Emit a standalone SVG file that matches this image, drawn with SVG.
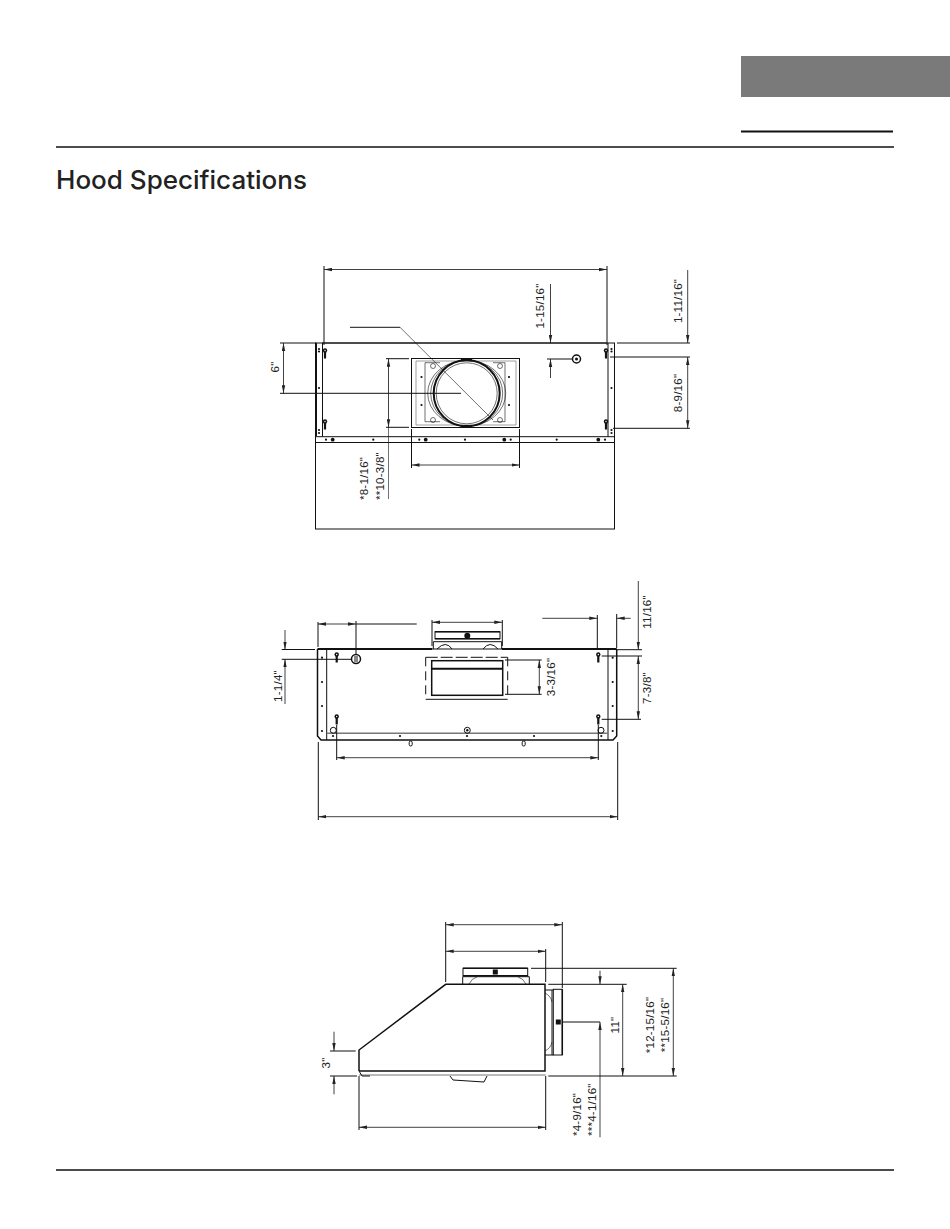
<svg xmlns="http://www.w3.org/2000/svg" xmlns:xlink="http://www.w3.org/1999/xlink" width="950" height="1229" viewBox="0 0 950 1229">
<style>
.l{fill:none;stroke:#111;stroke-width:1}
.t{fill:none;stroke:#111;stroke-width:.6}
.m{fill:none;stroke:#111;stroke-width:1.5}
.h{fill:none;stroke:#111;stroke-width:2}
.g{fill:none;stroke:#777;stroke-width:.7}
.d{fill:none;stroke:#111;stroke-width:.8;marker-start:url(#a);marker-end:url(#a)}
.e{fill:none;stroke:#111;stroke-width:.8;marker-end:url(#a)}
.f{fill:#111}
.x{font-family:"Liberation Sans",Arial,sans-serif;font-size:11.5px;fill:#222;letter-spacing:.25px}
.c{text-anchor:middle}
</style>
<defs>
<marker id="a" viewBox="0 0 8 4" refX="8" refY="2" markerWidth="8" markerHeight="4" markerUnits="userSpaceOnUse" orient="auto-start-reverse"><path d="M0 .3L8 2L0 3.700Z" fill="#222"/></marker>
<g id="k"><circle cx="0" cy="-2.500" r="2.200" class="f"/><rect x="-1.100" y="-1" width="2.200" height="6.500" class="f"/><circle cx="0" cy="-2.500" r=".7" fill="#fff"/></g>
<circle id="s" r="1.100" class="f"/>
<circle id="b" r="1.900" class="f"/>
</defs>
<rect x="0" y="0" width="950" height="1229" fill="#fff"/>

<g id="header">
<rect x="741" y="56" width="209" height="41" fill="#7a7a7a"/>
<path d="M741 131.500H893" stroke="#111" stroke-width="2"/>
<path d="M56 147H894" stroke="#111" stroke-width="1.500"/>
<text x="56" y="189" font-family="Inter,'Liberation Sans',sans-serif" font-size="25.500" font-weight="500" fill="#222" textLength="251" lengthAdjust="spacingAndGlyphs">Hood Specifications</text>
<path d="M56 1170H894" stroke="#111" stroke-width="1.500"/>
</g>

<g id="top-view">
<rect x="315.500" y="343" width="299" height="186" class="l"/>
<path class="l" d="M322.500 343V436.700M608 343V436.700M315.500 436.700H614.500M315.500 442.500H614.500"/>
<path class="l" d="M316.500 343V436"/>
<rect x="411.500" y="358.500" width="108" height="69" class="l"/>
<path class="g" d="M416 361H516V425H416Z"/>
<path class="t" d="M425 362.700H440M493 362.700H505V421.700H493M425 362.700V421.700H440"/>
<ellipse cx="466.700" cy="393.300" rx="39" ry="33" class="t"/>
<ellipse cx="466.700" cy="393.300" rx="36" ry="33" class="t"/>
<circle cx="466.700" cy="393.300" r="33" fill="none" stroke="#111" stroke-width="2"/>
<circle cx="466.700" cy="393.300" r="30.500" class="t"/>
<circle cx="433" cy="366" r="2.500" class="t"/><circle cx="500" cy="366" r="2.500" class="t"/><circle cx="433" cy="420" r="2.500" class="t"/><circle cx="500" cy="420" r="2.500" class="t"/>
<rect x="461" y="359" width="11" height="2" class="f"/><rect x="461" y="425" width="11" height="2.500" class="f"/>
<g>
<use xlink:href="#k" x="325" y="353"/><use xlink:href="#k" x="325" y="424"/><use xlink:href="#k" x="606" y="353"/><use xlink:href="#k" x="606" y="424"/>
<use xlink:href="#s" x="319" y="349"/><use xlink:href="#s" x="319" y="351.500"/><use xlink:href="#s" x="319" y="388"/><use xlink:href="#s" x="319" y="430"/><use xlink:href="#s" x="319" y="433"/>
<use xlink:href="#s" x="611.500" y="349"/><use xlink:href="#s" x="611.500" y="351.500"/><use xlink:href="#s" x="611.500" y="388"/><use xlink:href="#s" x="611.500" y="430"/><use xlink:href="#s" x="611.500" y="433"/>
<use xlink:href="#s" x="326" y="439.700"/><use xlink:href="#b" x="332.700" y="439.700"/><use xlink:href="#s" x="373.300" y="439.700"/><use xlink:href="#s" x="419.300" y="439.700"/><use xlink:href="#b" x="425.700" y="439.700"/><use xlink:href="#s" x="465" y="439.700"/><use xlink:href="#b" x="504.300" y="439.700"/><use xlink:href="#s" x="510.700" y="439.700"/><use xlink:href="#s" x="556.700" y="439.700"/><use xlink:href="#b" x="598.300" y="439.700"/><use xlink:href="#s" x="605" y="439.700"/>
<use xlink:href="#s" x="421.500" y="377"/><use xlink:href="#s" x="421.500" y="405"/><use xlink:href="#s" x="509" y="377"/><use xlink:href="#s" x="509" y="405"/>
</g>
<circle cx="576.500" cy="359" r="4" fill="none" stroke="#111" stroke-width="1.500"/><circle cx="576.500" cy="359" r="1.500" class="f"/>
</g>

<g id="front-view">
<path class="h" d="M317.500 649H432M502 649H616.700"/>
<path class="m" d="M317.500 649V736L321 740H613L616.700 736V649"/>
<path class="l" d="M326.700 649V740M608 649V740"/>
<path d="M326.700 733.300H608" stroke="#777" stroke-width="1.500"/>
<rect x="435" y="631.700" width="65" height="7" class="l"/>
<path class="m" d="M435 631.700H500M435 638.700H500"/>
<path class="l" d="M433.300 641.700H501.700M433.300 641.700V649M501.700 641.700V649M432 649H502"/>
<path class="l" d="M437 649Q446 640 452 649M483 649Q490 640 498 649"/>
<circle cx="467.300" cy="635.700" r="3" class="f"/>
<path class="l" stroke-dasharray="12 3" d="M425.700 657.300H507.700"/>
<path class="l" d="M425.700 699.300H507.700"/>
<path class="l" stroke-dasharray="9 5" d="M425.700 657.300V699.300M507.700 657.300V699.300"/>
<rect x="431.700" y="660.700" width="71" height="34.600" class="m"/>
<path class="h" d="M431.700 668.700H502.700"/>
<use xlink:href="#k" x="336.700" y="657"/><use xlink:href="#k" x="598.300" y="657"/><use xlink:href="#k" x="336.700" y="719"/><use xlink:href="#k" x="598.300" y="719"/>
<circle cx="356" cy="659" r="4.500" class="m"/><path class="l" d="M355 656V662M357 656V662"/>
<circle cx="333.300" cy="730.300" r="3" class="l"/><circle cx="601" cy="730.300" r="3" class="l"/>
<circle cx="467.300" cy="730.300" r="3" class="l"/><circle cx="467.300" cy="730.300" r="1.200" class="f"/>
<rect x="409.200" y="741" width="3" height="5" rx="1.500" class="l"/><rect x="522.200" y="741" width="3" height="5" rx="1.500" class="l"/>
<use xlink:href="#s" x="322" y="657.700"/><use xlink:href="#s" x="322" y="682"/><use xlink:href="#s" x="322" y="706"/><use xlink:href="#s" x="322" y="731"/>
<use xlink:href="#s" x="612.700" y="657.700"/><use xlink:href="#s" x="612.700" y="682"/><use xlink:href="#s" x="612.700" y="706"/><use xlink:href="#s" x="612.700" y="731"/>
<use xlink:href="#s" x="333" y="736"/><use xlink:href="#s" x="400" y="736"/><use xlink:href="#s" x="467" y="736"/><use xlink:href="#s" x="534" y="736"/><use xlink:href="#s" x="601.300" y="736"/>
</g>

<g id="side-view">
<path class="m" d="M359 1071V1050L445.700 984.300H545V1071H359"/>
<path d="M359 1075H545.700" stroke="#777" stroke-width="1.200"/>
<path class="l" d="M359 1071L362 1076H370"/>
<path class="l" d="M450 1076L453 1080L484 1082L487 1076"/>
<rect x="463" y="968.300" width="64.700" height="7.400" class="l"/>
<path class="m" d="M463 968.300H527.700M463 975.700H527.700"/>
<path class="l" d="M462.700 984V976.700H529.300V984"/>
<path class="t" d="M469 984Q472 978 477 977M518 977Q523 978 526 984"/>
<rect x="492.800" y="969.500" width="5" height="5" class="f"/>
<rect x="553.300" y="989.300" width="9" height="65.700" class="l"/>
<path class="m" d="M562.300 989.300V1055"/>
<path class="l" d="M545 990H553.300M545 1055H553.300M552 990V1055"/>
<path class="t" d="M545 993Q551 996 552 1002M545 1051Q551 1048 552 1042"/>
<rect x="555.800" y="1019.500" width="5" height="5" class="f"/>
</g>

<g id="connectors">
<path class="d" d="M324 269.500H607"/>
<path class="l" d="M324 266V345M607 266V345M280 343H316M322 343H607M617 343H690M610 357H690M613 428.300H690M280 393.300H461M386 358.700H409M386 427.300H409M411.500 429V468M519.500 429V468M547 359H572"/>
<path class="t" d="M400 327.300L493 420"/>
<path class="l" d="M350 327.300H400"/>
<path class="d" d="M283.500 343V393.300"/>
<path class="d" d="M388.500 358.700V427.300"/>
<path class="t" d="M388.500 427V499"/>
<path class="d" d="M411.500 465H519.500"/>
<path class="e" d="M550.500 284V343"/><path class="e" d="M550.500 378V359"/>
<path class="e" d="M687.700 270V343"/><path class="d" d="M687.700 357V428.300"/>
<path class="l" d="M318 622V647M356 621V654M432 620V646M502.300 620V646M597.300 615V650M616.700 614V648M281.700 649.500H315M281.700 659.300H351.700M617 649.700H642M601.700 656H642M601.700 719.300H641M505 660H541.700M505 694.300H541.700M336.700 725V760M598.300 725V760M318.300 742V820M617.700 742V820"/>
<path class="d" d="M318 624H356"/><path class="l" d="M356 624H416.700"/>
<path class="d" d="M432 622.300H502.300"/>
<path class="e" d="M542.300 618.300H597.300"/><path class="e" d="M630.700 618.300H616.700"/>
<path class="d" d="M539.300 660V694.300"/>
<path class="e" d="M638.300 581V649.700"/><path class="d" d="M638.300 656V719.300"/>
<path class="e" d="M285 630V649.500"/><path class="e" d="M285 704V659.300"/>
<path class="d" d="M336.700 757.700H598.300"/>
<path class="d" d="M318.300 816.700H617.700"/>
<path class="l" d="M445.700 922V982M562.300 922V988M545.700 949V982M545.700 1076V1130M359 1076V1130M330 1051H355.700M330 1076H357M531 968.300H676.700M548.300 984.300H626.700M548.300 1076H676.700M563 1022H600"/>
<path class="d" d="M445.700 924.700H562.300"/>
<path class="d" d="M445.700 951.300H545.700"/>
<path class="d" d="M359 1127.300H545.700"/>
<path class="e" d="M334 1031.700V1051"/><path class="e" d="M334 1094.300V1076"/>
<path class="e" d="M600 970.700V984.300"/><path class="e" d="M600 1137.300V1022"/>
<path class="d" d="M622.700 984.300V1076"/>
<path class="d" d="M673.300 968.300V1076"/>
</g>

<g id="labels">
<text class="x c" transform="translate(279 367) rotate(-90)">6"</text>
<text class="x" transform="translate(368 500) rotate(-90)">*8-1/16"</text>
<text class="x" transform="translate(384 500) rotate(-90)">**10-3/8"</text>
<text class="x c" transform="translate(544 306) rotate(-90)">1-15/16"</text>
<text class="x c" transform="translate(682 301) rotate(-90)">1-11/16"</text>
<text class="x c" transform="translate(682 393) rotate(-90)">8-9/16"</text>
<text class="x c" transform="translate(282 686) rotate(-90)">1-1/4"</text>
<text class="x c" transform="translate(555 677) rotate(-90)">3-3/16"</text>
<text class="x c" transform="translate(651 612) rotate(-90)">11/16"</text>
<text class="x c" transform="translate(651 688) rotate(-90)">7-3/8"</text>
<text class="x c" transform="translate(330 1063) rotate(-90)">3"</text>
<text class="x c" transform="translate(619 1025) rotate(-90)">11"</text>
<text class="x c" transform="translate(654 1025) rotate(-90)">*12-15/16"</text>
<text class="x c" transform="translate(669 1025) rotate(-90)">**15-5/16"</text>
<text class="x" transform="translate(581 1136) rotate(-90)">*4-9/16"</text>
<text class="x" transform="translate(596 1136) rotate(-90)">***4-1/16"</text>
</g>
</svg>
